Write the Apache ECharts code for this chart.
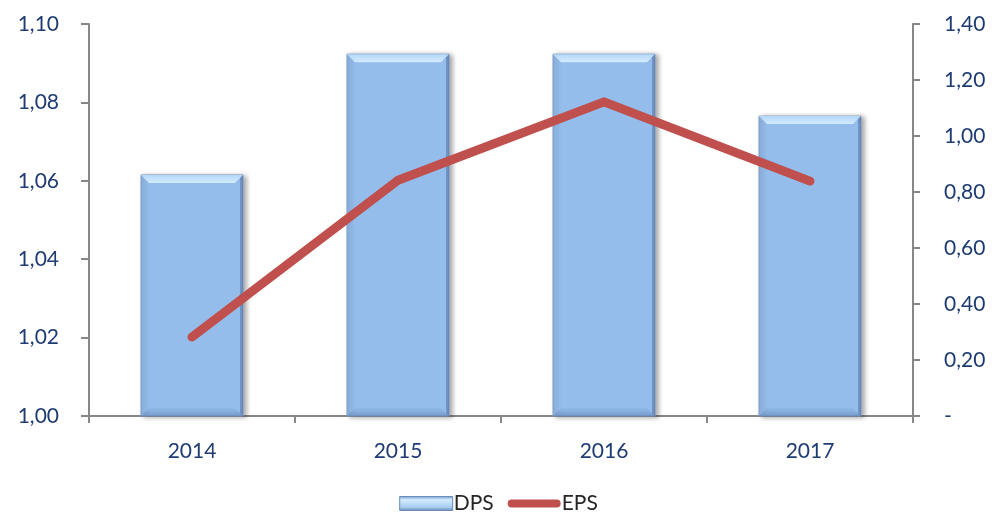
<!DOCTYPE html>
<html>
<head>
<meta charset="utf-8">
<script src="https://cdn.jsdelivr.net/npm/echarts@6/dist/echarts.min.js"></script>
<style>
  html, body { margin: 0; padding: 0; background: #fff; }
  #chart { width: 997px; height: 519px; }
</style>
</head>
<body>
<div id="chart"></div>
<script>
// Dividend and earnings per share by year
const years = ['2014', '2015', '2016', '2017'];
const dps = [1.0615, 1.0923, 1.0923, 1.0765];
const eps = [0.282, 0.842, 1.122, 0.839];

const fmt = v => v.toFixed(2).replace('.', ',');
const axisColor = '#878787';
const labelColor = '#1f3b73';
const font = 'Lato, "Open Sans", sans-serif';

// Bevelled bar: body, lighter top bevel, darker bottom and side edges
function renderBar(params, api) {
  const idx = api.value(0);
  const val = api.value(1);
  const top = api.coord([idx, val]);
  const base = api.coord([idx, 1.0]);
  const w = api.size([1, 0])[0] * 0.495;
  const x0 = top[0] - w / 2, x1 = top[0] + w / 2;
  const y0 = top[1], y1 = base[1];
  const b = 8;
  return {
    type: 'group',
    children: [
      { type: 'rect', shape: { x: x0, y: y0, width: w, height: y1 - y0 },
        style: { fill: { type: 'linear', x: 0, y: 0, x2: 1, y2: 0,
            colorStops: [{ offset: 0, color: '#8cb3e3' }, { offset: 0.04, color: '#95bdec' },
              { offset: 0.96, color: '#95bdec' }, { offset: 1, color: '#7d9fcd' }] },
          stroke: '#7f9cc4', lineWidth: 1,
          shadowBlur: 5, shadowOffsetX: 3, shadowOffsetY: 1, shadowColor: 'rgba(0,0,0,0.35)' } },
      { type: 'polygon', shape: { points: [[x0, y0], [x1, y0], [x1 - b, y0 + b], [x0 + b, y0 + b]] },
        style: { fill: { type: 'linear', x: 0, y: 0, x2: 0, y2: 1,
          colorStops: [{ offset: 0, color: '#b4d7f8' }, { offset: 1, color: '#d2ecff' }] } } },
      { type: 'polygon', shape: { points: [[x1, y0], [x1 - 3, y0 + 3], [x1 - 3, y1 - 3], [x1, y1]] },
        style: { fill: 'rgba(60,95,150,0.35)' } },
      { type: 'polygon', shape: { points: [[x0, y1], [x0 + b, y1 - b], [x1 - b, y1 - b], [x1, y1]] },
        style: { fill: { type: 'linear', x: 0, y: 0, x2: 0, y2: 1,
          colorStops: [{ offset: 0, color: 'rgba(90,130,190,0.10)' }, { offset: 1, color: 'rgba(70,105,160,0.35)' }] } } }
    ]
  };
}

const chart = echarts.init(document.getElementById('chart'));
chart.setOption({
  animation: false,
  grid: { left: 89, right: 84, top: 24, bottom: 103 },
  legend: {
    bottom: 0,
    left: 'center',
    itemGap: 14,
    itemWidth: 53,
    itemHeight: 14,
    textStyle: { fontFamily: font, fontSize: 21, color: '#262626', padding: [0, 0, 0, -4] },
    data: [
      { name: 'DPS', icon: 'rect', itemStyle: { color: { type: 'linear', x: 0, y: 0, x2: 0, y2: 1,
        colorStops: [{ offset: 0, color: '#6f93c4' }, { offset: 0.25, color: '#d3ecff' }, { offset: 0.75, color: '#a7cdf0' }, { offset: 1, color: '#5d82b4' }] }, borderColor: '#6a8cba', borderWidth: 1 } },
      { name: 'EPS', icon: 'path://M4.5,0 h51 a4.5,4.5 0 0 1 0,9 h-51 a4.5,4.5 0 0 1 0,-9 z', itemStyle: { color: '#c0504d' } }
    ]
  },
  xAxis: {
    type: 'category',
    data: years,
    axisLine: { lineStyle: { color: axisColor, width: 2 } },
    axisTick: { show: true, length: 7, lineStyle: { color: axisColor, width: 2 } },
    axisLabel: { fontFamily: font, fontSize: 21, color: labelColor, margin: 25 }
  },
  yAxis: [
    {
      type: 'value', min: 1.0, max: 1.1, interval: 0.02,
      splitLine: { show: false },
      axisLine: { show: true, lineStyle: { color: axisColor, width: 2 } },
      axisTick: { show: true, length: 8, lineStyle: { color: axisColor, width: 2 } },
      axisLabel: { fontFamily: font, fontSize: 21, color: labelColor, margin: 30, formatter: fmt }
    },
    {
      type: 'value', min: 0, max: 1.4, interval: 0.2,
      splitLine: { show: false },
      axisLine: { show: true, lineStyle: { color: axisColor, width: 2 } },
      axisTick: { show: true, length: 7, lineStyle: { color: axisColor, width: 2 } },
      axisLabel: { fontFamily: font, fontSize: 21, color: labelColor, margin: 31,
        formatter: v => v === 0 ? '-' : fmt(v) }
    }
  ],
  series: [
    {
      name: 'DPS',
      type: 'custom',
      yAxisIndex: 0,
      renderItem: renderBar,
      encode: { x: 0, y: 1 },
      itemStyle: { color: '#94bdec' },
      data: years.map((y, i) => [i, dps[i]]),
      z: 2
    },
    {
      name: 'EPS',
      type: 'line',
      yAxisIndex: 1,
      data: eps,
      symbol: 'none',
      lineStyle: { color: '#c0504d', width: 9, cap: 'round', join: 'round' },
      itemStyle: { color: '#c0504d' },
      z: 3
    }
  ]
});
</script>
</body>
</html>
